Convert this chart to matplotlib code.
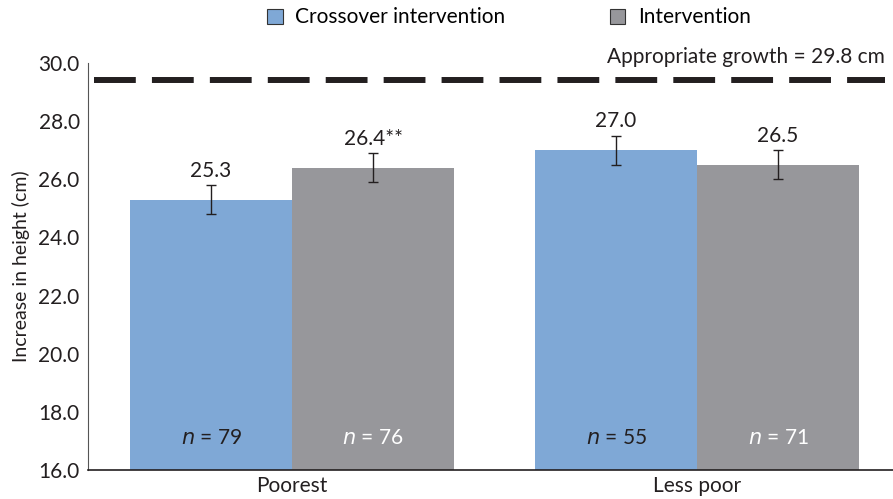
import matplotlib.pyplot as plt
import numpy as np

plt.rcParams['font.family'] = ['Lato', 'DejaVu Sans']

groups = ['Poorest', 'Less poor']
crossover = [25.3, 27.0]
intervention = [26.4, 26.5]
crossover_err = [0.5, 0.5]
intervention_err = [0.5, 0.5]
crossover_lbl = ['25.3', '27.0']
intervention_lbl = ['26.4**', '26.5']
crossover_n = [79, 55]
intervention_n = [76, 71]
target = 29.4

blue = '#7fa8d6'
grey = '#97979b'
dark = '#231f20'
fs = 15

fig = plt.figure(figsize=(8.93, 4.99), dpi=100)
ax = fig.add_axes([0.0985, 0.058, 0.9015, 0.8157])

x = np.arange(len(groups))
w = 0.4

b1 = ax.bar(x - w/2, crossover, w, bottom=0, color=blue, label='Crossover intervention', zorder=2)
b2 = ax.bar(x + w/2, intervention, w, bottom=0, color=grey, label='Intervention', zorder=2)
ax.errorbar(x - w/2, crossover, yerr=crossover_err, fmt='none', ecolor=dark, elinewidth=1.0, capsize=3.5, capthick=1.0, zorder=3)
ax.errorbar(x + w/2, intervention, yerr=intervention_err, fmt='none', ecolor=dark, elinewidth=1.0, capsize=3.5, capthick=1.0, zorder=3)

for i in range(len(groups)):
    ax.text(x[i] - w/2, crossover[i] + crossover_err[i] + 0.15, crossover_lbl[i], ha='center', va='bottom', fontsize=fs, color=dark)
    ax.text(x[i] + w/2, intervention[i] + intervention_err[i] + 0.15, intervention_lbl[i], ha='center', va='bottom', fontsize=fs, color=dark)
    ax.text(x[i] - w/2, 17.1, r'$\it{n}$ = %d' % crossover_n[i], ha='center', va='center', fontsize=fs, color=dark)
    ax.text(x[i] + w/2, 17.1, r'$\it{n}$ = %d' % intervention_n[i], ha='center', va='center', fontsize=fs, color='white')

ax.plot([-0.49, 1.465], [target, target], color=dark, lw=4.3, dashes=(7, 2.7), zorder=3)
ax.text(1.465, target + 0.82, 'Appropriate growth = 29.8 cm', ha='right', va='center', fontsize=fs, color=dark)

ax.set_xlim(-0.504, 1.484)
ax.set_ylim(16, 30)
ax.set_yticks(np.arange(16, 30.1, 2))
ax.set_yticklabels(['%.1f' % v for v in np.arange(16, 30.1, 2)], fontsize=fs, color=dark)
ax.set_xticks(x)
ax.set_xticklabels(groups, fontsize=fs, color=dark)
ax.tick_params(length=0, pad=6)
ax.tick_params(axis='x', pad=4)
ax.set_ylabel('Increase in height (cm)', fontsize=14, color=dark, labelpad=6)

for s in ['top', 'right']:
    ax.spines[s].set_visible(False)
ax.spines['left'].set_color('#555555')
ax.spines['bottom'].set_color(dark)
ax.spines['bottom'].set_linewidth(1.2)

leg = fig.legend(handles=[b1, b2], loc='center', bbox_to_anchor=(0.57, 0.965), ncol=2, frameon=False,
                 fontsize=fs, handlelength=0.75, handleheight=0.75, columnspacing=5, handletextpad=0.6)
for p in leg.get_patches():
    p.set_edgecolor('#333333')
    p.set_linewidth(0.8)

fig.savefig('out.png', dpi=100)
